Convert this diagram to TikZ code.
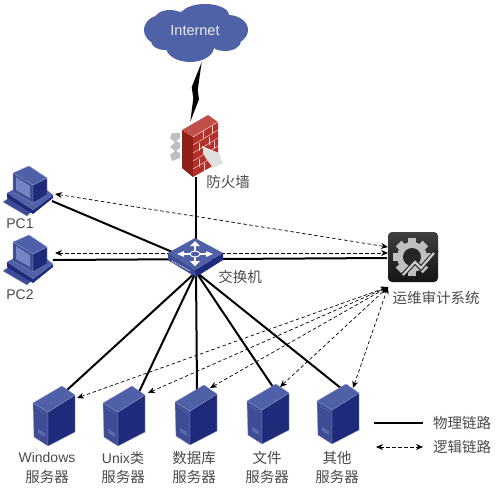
\documentclass[tikz,border=0pt]{standalone}
\usepackage{fontspec}
\setmainfont{Liberation Sans}
\newfontfamily\cjk{Noto Sans CJK SC}
\usetikzlibrary{arrows.meta, calc}

\definecolor{cloudblue}{HTML}{4F62A8}
\definecolor{devtop}{HTML}{4F60A8}
\definecolor{devleft}{HTML}{3E4C96}
\definecolor{devright}{HTML}{1F2B7A}
\definecolor{devedge}{HTML}{8A94C8}
\definecolor{devscreen}{HTML}{7484C4}
\definecolor{wallred}{HTML}{B5302A}
\definecolor{walldark}{HTML}{8E2018}
\definecolor{labelgray}{HTML}{4A4A4A}

\tikzset{
  physlink/.style={line width=2pt, black},
  loglink/.style={dashed, dash pattern=on 3.5pt off 2.5pt, line width=0.7pt, black, <->},
  lbl/.style={text=labelgray, font=\fontsize{14}{16}\selectfont, inner sep=0pt},
  lblcn/.style={text=labelgray, font=\cjk\fontsize{14.5}{16}\selectfont, inner sep=0pt},
  face/.style={draw=devedge, line width=0.3pt, line join=round},
  pics/servericon/.style={code={
    \path[face, fill=devleft] (0,0) -- (-15,-9) -- (-14,25) -- (0,34) -- cycle;
    \path[face, fill=devright] (0,0) -- (27,-17) -- (27,20) -- (0,34) -- cycle;
    \path[face, fill=devtop] (0,0) -- (-15,-9) -- (14,-26) -- (27,-17) -- cycle;
    \draw[devedge, opacity=.5, line width=0.4pt] (-12,-4) -- (-2,2);
    \fill[devedge, opacity=.4] (-10,17) -- (-3,21) -- (-3,25) -- (-10,21) -- cycle;
  }},
  pics/pcicon/.style={code={
    % keyboard
    \path[face, fill=devleft] (3,42) -- (10,37) -- (32,51) -- (27,56) -- cycle;
    % base
    \fill[devright] (7,33) -- (7,38) -- (33,54) -- (53,38) -- (53,35) -- (33,50) -- cycle;
    \fill[devtop] (7,33) -- (20,26) -- (42,26) -- (53,35) -- (33,50) -- cycle;
    % monitor
    \path[face, fill=devleft] (13,13) -- (33,25) -- (33,43) -- (13,32) -- cycle;
    \path[face, fill=devright] (33,25) -- (47,18) -- (47,35) -- (33,43) -- cycle;
    \path[face, fill=devtop] (13,13) -- (29,6) -- (47,18) -- (33,25) -- cycle;
    \fill[devscreen] (16,17) -- (30,26) -- (30,38) -- (16,30) -- cycle;
  }}
}

\begin{document}
\begin{tikzpicture}[x=1pt, y=-1pt, >={Stealth[length=7pt, width=6pt]}]
  \useasboundingbox (0,0) rectangle (497,490);

  % Anchor points
  \coordinate (wallBottom) at (196,177);
  \coordinate (swTop) at (196,242);
  \coordinate (swCenter) at (196,262);
  \coordinate (swBottom) at (196,272);
  \coordinate (pcA) at (52,201);
  \coordinate (pcAlog) at (55,194);
  \coordinate (pcB) at (53,260);
  \coordinate (pcBlog) at (55,253);
  \coordinate (auditIn) at (387,258);
  \coordinate (auditA) at (388,247);
  \coordinate (auditB) at (388,253);
  \coordinate (auditC) at (388,287);

  % Physical links
  \draw[physlink] (wallBottom) -- (swTop);
  \draw[physlink] (pcA) -- (swCenter);
  \draw[physlink] (pcB) -- (auditIn);
  \foreach \srv/\sx/\sy in {winA/67/390, unixA/139/392, dbA/197/390, fileA/273/387, otherA/342/389}{
    \coordinate (\srv) at (\sx,\sy);
    \draw[physlink] (swBottom) -- (\srv);
  }

  % Logical links
  \draw[loglink] (pcAlog) -- (auditA);
  \draw[loglink] (pcBlog) -- (auditB);
  \foreach \srv/\sx/\sy in {winB/77/398, unixB/148/393, dbB/210/388, fileB/280/387, otherB/353/388}{
    \coordinate (\srv) at (\sx,\sy);
    \draw[loglink] (\srv) -- (auditC);
  }

  % Cloud
  \fill[cloudblue] (195,30) ellipse (36 and 20);
  \fill[cloudblue] (162,30) ellipse (18 and 15);
  \fill[cloudblue] (228,30) ellipse (20 and 15);
  \fill[cloudblue] (190,47) ellipse (24 and 15);
  \fill[cloudblue] (170,20) ellipse (16 and 10);
  \fill[cloudblue] (205,15) ellipse (24 and 11);
  \fill[cloudblue] (225,41) ellipse (16 and 10);
  \fill[cloudblue] (165,41) ellipse (14 and 9);
  \node[text=white!92!black, font=\fontsize{14.5}{16}\selectfont, inner sep=0pt] (internet) at (195,31) {Internet};

  % Lightning
  \fill (201.7,62) -- (191.7,87) -- (193.3,98.3) -- (190.3,121.7) -- (199,99.3) -- (197.7,90) -- cycle;

  % Firewall
  \fill[black!25] (172,133) -- (180,133) -- (180,138) -- (176,141) -- (180,143) -- (180,148) -- (176,151) -- (180,153) -- (180,158) -- (172,161) -- (170,155) -- (175,151) -- (170,147) -- (175,142) -- (170,138) -- cycle;
  \fill[walldark] (182,130) -- (193,137) -- (193,177) -- (182,168) -- cycle;
  \fill[wallred] (193,137) -- (218,122) -- (218,163) -- (193,177) -- cycle;
  \fill[wallred!85!white] (182,130) -- (208,115) -- (218,122) -- (193,137) -- cycle;
  \foreach \i in {1,...,4}{
    \draw[white!80!wallred, line width=0.5pt] (193,137+8*\i) -- (218,122+8*\i);
  }
  \draw[white!80!wallred, line width=0.5pt] (193,137) -- (218,122);
  \foreach \bx/\by in {203/131, 212/126, 199/143, 209/137, 203/147, 214/141, 199/159, 209/153, 204/163}{
    \draw[white!80!wallred, line width=0.5pt] (\bx,\by) -- ++(0,8);
  }
  \fill[black!12] (202,146) -- (219,153) -- (223,163) -- (213,168) -- (205,157) -- cycle;
  \node[lblcn] (wallLabel) at (228,182) {防火墙};

  % Switch
  \fill[devright] (168,253) -- (195,270) -- (223,253) -- (223,260) -- (196,277) -- (168,260) -- cycle;
  \fill[devleft] (168,253) -- (195,270) -- (196,277) -- (168,260) -- cycle;
  \fill[devtop] (168,253) -- (195,238) -- (223,253) -- (195,270) -- cycle;
  \draw[white, line width=1.4pt] (195,246) -- (195,262);
  \draw[white, line width=1.4pt] (181,254) -- (209,254);
  \fill[white] (195,241) -- (200,246) -- (190,246) -- cycle;
  \fill[white] (195,266) -- (200,261) -- (190,261) -- cycle;
  \fill[white] (177,254) -- (184,251) -- (184,257) -- cycle;
  \fill[white] (213,254) -- (206,251) -- (206,257) -- cycle;
  \fill[devtop] (195,254) ellipse (5 and 3);
  \draw[white, line width=0.9pt] (195,254) ellipse (5 and 3);
  \draw[white, densely dotted, line width=0.9pt] (172,261) -- (190,271);
  \node[lblcn] (swLabel) at (240,277) {交换机};

  % PCs
  \pic at (0,160) {pcicon};
  \pic at (0,229) {pcicon};
  \node[lbl] (pcAlabel) at (20,224) {PC1};
  \node[lbl] (pcBlabel) at (20,295) {PC2};

  % Audit system
  \shade[top color=black!75, bottom color=black!92, rounded corners=4pt] (388,232) rectangle (438,282);
  \coordinate (gear) at (412,257);
  \foreach \a in {0,45,...,315}{
    \fill[black!25, rotate around={\a:(gear)}] ($(gear)+(-4,-19)$) rectangle ($(gear)+(4,-12)$);
  }
  \fill[black!25] (gear) circle (15);
  \fill[black!85] (gear) circle (9);
  \draw[black!85, line width=4.5pt] (402,276) -- (415,262) -- (421,268) -- (437,250);
  \draw[black!20, line width=2.2pt] (403,275) -- (415,262) -- (421,268) -- (434,253);
  \node[lblcn] (auditLabel) at (436,298) {运维审计系统};

  % Servers
  \foreach \px/\py in {48/412, 118/412, 190/411, 262/410, 332/410}{
    \pic at (\px,\py) {servericon};
  }
  \node[lbl] (winLabel) at (47,457) {Windows};
  \node[lblcn] (winSub) at (47,477) {服务器};
  \node[lbl] (unixLabel) at (123,458) {Unix{\cjk 类}};
  \node[lblcn] (unixSub) at (123,477) {服务器};
  \node[lblcn] (dbLabel) at (194,458) {数据库};
  \node[lblcn] (dbSub) at (194,477) {服务器};
  \node[lblcn] (fileLabel) at (267,458) {文件};
  \node[lblcn] (fileSub) at (267,477) {服务器};
  \node[lblcn] (otherLabel) at (337,458) {其他};
  \node[lblcn] (otherSub) at (337,477) {服务器};

  % Legend
  \coordinate (legAl) at (374,423);
  \coordinate (legAr) at (423,423);
  \coordinate (legBl) at (376,447);
  \coordinate (legBr) at (423,447);
  \draw[physlink] (legAl) -- (legAr);
  \draw[loglink] (legBl) -- (legBr);
  \node[lblcn] (legAlabel) at (462,423) {物理链路};
  \node[lblcn] (legBlabel) at (462,447) {逻辑链路};
\end{tikzpicture}
\end{document}
